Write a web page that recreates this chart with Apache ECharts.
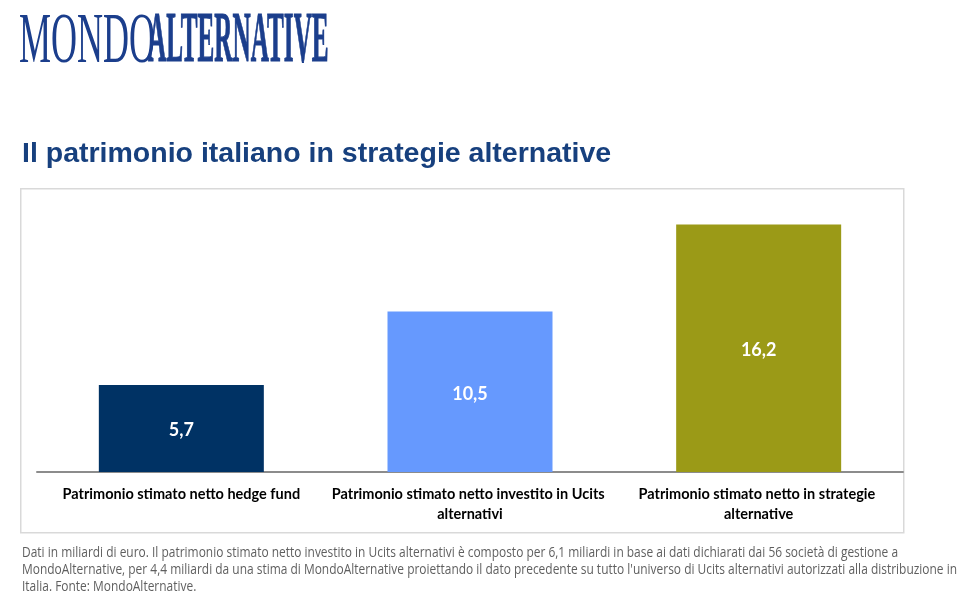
<!DOCTYPE html>
<html>
<head>
<meta charset="utf-8">
<script src="https://cdn.jsdelivr.net/npm/echarts@6/dist/echarts.min.js"></script>
<style>
html,body{margin:0;padding:0;background:#fff;}
#c{width:959px;height:592px;}
</style>
</head>
<body>
<div id="c"></div>
<script>
const categories = [
  'Patrimonio stimato netto hedge fund',
  'Patrimonio stimato netto investito in Ucits alternativi',
  'Patrimonio stimato netto in strategie alternative'
];
const values = [5.7, 10.5, 16.2];
const barColors = ['#003264', '#6699fe', '#9b9a17'];
const titleText = 'Il patrimonio italiano in strategie alternative';
const footnoteLines = [
  "Dati in miliardi di euro. Il patrimonio stimato netto investito in Ucits alternativi è composto per 6,1 miliardi in base ai dati dichiarati dai 56 società di gestione a",
  "MondoAlternative, per 4,4 miliardi da una stima di MondoAlternative proiettando il dato precedente su tutto l'universo di Ucits alternativi autorizzati alla distribuzione in",
  "Italia. Fonte: MondoAlternative."
];

const footFont = '14px "Open Sans", "Noto Sans", sans-serif';
const ctx = document.createElement('canvas').getContext('2d');
ctx.font = footFont;
const footW = Math.max(...footnoteLines.map(l => ctx.measureText(l).width));
const footScale = 935 / footW;

const chart = echarts.init(document.getElementById('c'));
chart.setOption({
  animation: false,
  backgroundColor: '#ffffff',
  grid: { left: 37, right: 56, top: 197, bottom: 120 },
  xAxis: {
    type: 'category',
    data: categories,
    axisLine: { show: true, lineStyle: { color: '#8c8c8c', width: 2 } },
    axisTick: { show: false },
    axisLabel: {
      interval: 0,
      margin: 12,
      color: '#000',
      fontFamily: 'Lato',
      fontWeight: 'bold',
      fontSize: 14.5,
      lineHeight: 20,
      width: 280,
      overflow: 'break',
      align: 'center'
    }
  },
  yAxis: {
    type: 'value', min: 0, max: 18, show: false,
    splitLine: { show: false }
  },
  series: [{
    type: 'bar',
    barWidth: 165,
    data: values.map((v, i) => ({ value: v, itemStyle: { color: barColors[i] } })),
    label: {
      show: true,
      position: 'inside',
      offset: [0, 2],
      color: '#fff',
      fontFamily: 'Lato',
      fontWeight: 'bold',
      fontSize: 18,
      formatter: p => String(p.value).replace('.', ',')
    }
  }],
  graphic: [
    { type: 'rect', left: 20, top: 188, z: -1,
      shape: { width: 883, height: 344 },
      style: { fill: '#fff', stroke: '#d9d9d9', lineWidth: 1.5 } },
    { type: 'text', left: 22, top: 140,
      style: { text: titleText, fill: '#17407e', font: 'bold 28.5px "Liberation Sans", Arial, sans-serif' } },
    { type: 'group', left: 19, top: 6, children: [
      { type: 'text', x: 0, y: 0, scaleX: 0.5,
        style: { text: 'MONDO', fill: '#1b3e8c', font: '72px "Liberation Serif", "DejaVu Serif", serif' } },
      { type: 'text', x: 129, y: 0, scaleX: 0.35,
        style: { text: 'ALTERNATIVE', fill: '#1b3e8c', stroke: '#1b3e8c', lineWidth: 1.2,
          font: 'bold 72px "Liberation Serif", "DejaVu Serif", serif' } }
    ]},
    { type: 'text', x: 22, y: 545, scaleX: footScale, originX: 0,
      style: { text: footnoteLines.join('\n'), fill: '#5f5f5f', lineHeight: 17, font: footFont } }
  ]
});
</script>
</body>
</html>
